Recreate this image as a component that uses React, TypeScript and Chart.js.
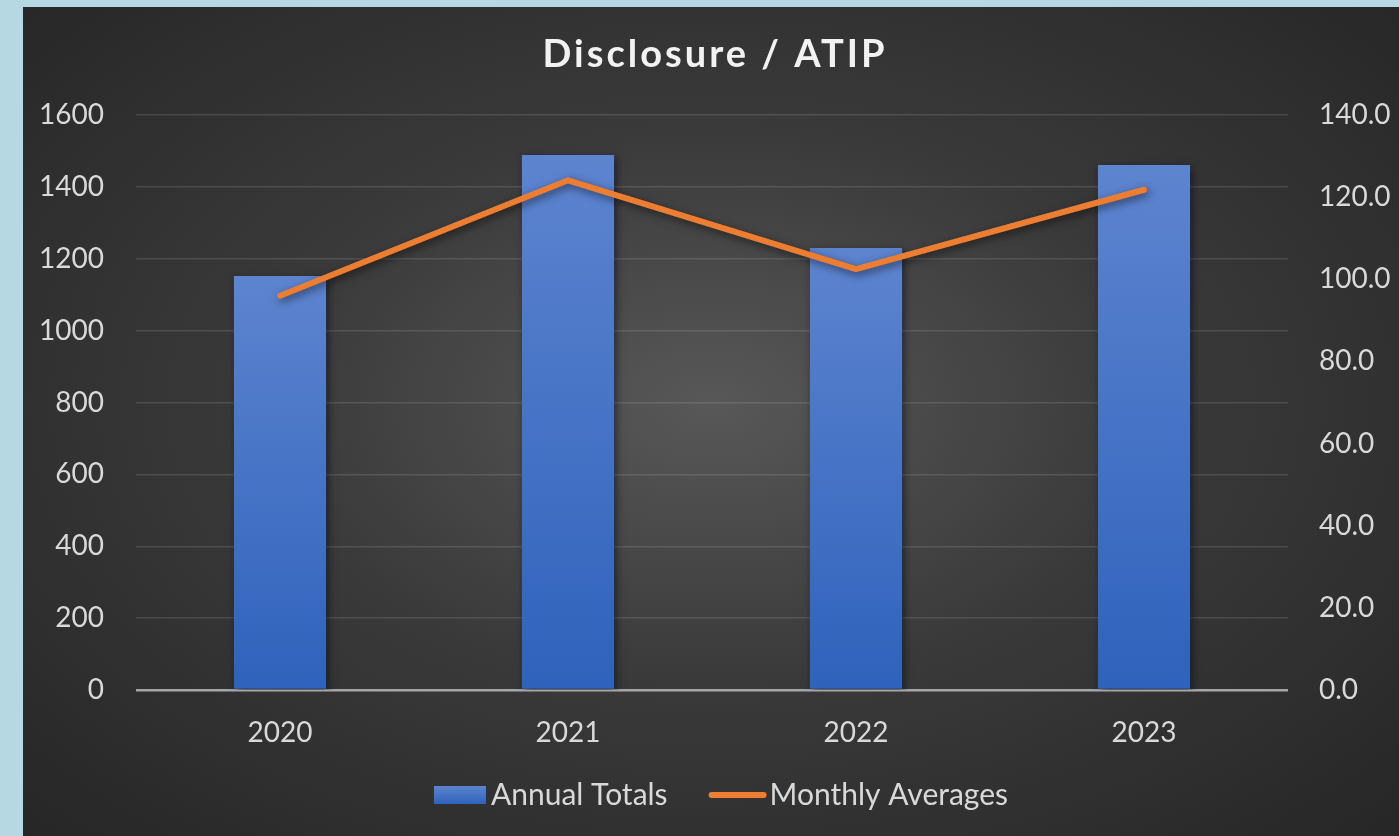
import React, { useEffect, useRef } from "react";
import { Chart, registerables } from "chart.js";

Chart.register(...registerables);

const titleText = "Disclosure / ATIP";
const categories = ["2020", "2021", "2022", "2023"];
const annualTotals = [1152, 1489, 1230, 1461];
const monthlyAverages = [96.0, 124.1, 102.5, 121.8];
const seriesNames = ["Annual Totals", "Monthly Averages"];
const leftMax = 1600;
const leftStep = 200;
const rightMax = 140;
const rightStep = 20;

const PANEL_W = 1376;
const PANEL_H = 829;
const FONT = "Lato, 'Open Sans', sans-serif";
const TEXT = "#d9d9d9";
const ORANGE = "#ed7d31";
const BLUE_TOP = "#5d84cf";
const BLUE_BOTTOM = "#2f62bc";

const shadowPlugin = {
  id: "shadowPlugin",
  beforeDatasetDraw(chart: any) {
    const ctx = chart.ctx;
    ctx.save();
    ctx.shadowColor = "rgba(0,0,0,0.55)";
    ctx.shadowBlur = 8;
    ctx.shadowOffsetX = 2;
    ctx.shadowOffsetY = 3;
  },
  afterDatasetDraw(chart: any) {
    chart.ctx.restore();
  },
};

const titlePlugin = {
  id: "customTitle",
  afterDraw(chart: any) {
    const ctx = chart.ctx;
    ctx.save();
    ctx.font = `bold 38px ${FONT}`;
    (ctx as any).letterSpacing = "3px";
    ctx.fillStyle = "#f2f2f2";
    ctx.textAlign = "center";
    ctx.textBaseline = "middle";
    ctx.fillText(titleText, chart.width / 2 + 4, 48);
    ctx.restore();
  },
};

const legendPlugin = {
  id: "customLegend",
  afterDraw(chart: any) {
    const ctx = chart.ctx;
    ctx.save();
    ctx.font = `30px ${FONT}`;
    ctx.textBaseline = "middle";
    ctx.textAlign = "left";
    const boxW = 52;
    const boxH = 18;
    const gap1 = 5;
    const itemGap = 41;
    const lineW = 58;
    const gap2 = 3;
    const w1 = ctx.measureText(seriesNames[0]).width;
    const w2 = ctx.measureText(seriesNames[1]).width;
    const total = boxW + gap1 + w1 + itemGap + lineW + gap2 + w2;
    let x = chart.width / 2 + 10 - total / 2;
    const cy = 788;
    const g = ctx.createLinearGradient(0, cy - boxH / 2, 0, cy + boxH / 2);
    g.addColorStop(0, BLUE_TOP);
    g.addColorStop(1, BLUE_BOTTOM);
    ctx.fillStyle = g;
    ctx.fillRect(x, cy - boxH / 2, boxW, boxH);
    x += boxW + gap1;
    ctx.fillStyle = TEXT;
    ctx.fillText(seriesNames[0], x, cy);
    x += w1 + itemGap;
    ctx.strokeStyle = ORANGE;
    ctx.lineWidth = 6;
    ctx.lineCap = "round";
    ctx.beginPath();
    ctx.moveTo(x + 3, cy);
    ctx.lineTo(x + lineW - 3, cy);
    ctx.stroke();
    x += lineW + gap2;
    ctx.fillText(seriesNames[1], x, cy);
    ctx.restore();
  },
};

export default function App() {
  const ref = useRef<HTMLCanvasElement | null>(null);

  useEffect(() => {
    if (!ref.current) return;
    const barColor = (c: any) => {
      const chart = c.chart;
      const area = chart.chartArea;
      const yScale = chart.scales?.y;
      if (!area || !yScale || c.raw === undefined) return "#4a79cb";
      const top = yScale.getPixelForValue(c.raw);
      const bottom = yScale.getPixelForValue(0);
      const g = chart.ctx.createLinearGradient(0, top, 0, bottom);
      g.addColorStop(0, BLUE_TOP);
      g.addColorStop(1, BLUE_BOTTOM);
      return g;
    };

    const chart = new Chart(ref.current, {
      type: "bar",
      data: {
        labels: categories,
        datasets: [
          {
            type: "bar",
            label: seriesNames[0],
            data: annualTotals,
            backgroundColor: barColor,
            borderWidth: 0,
            categoryPercentage: 1,
            barPercentage: 0.32,
            yAxisID: "y",
            order: 2,
          },
          {
            type: "line",
            label: seriesNames[1],
            data: monthlyAverages,
            borderColor: ORANGE,
            backgroundColor: ORANGE,
            borderWidth: 6,
            borderCapStyle: "round",
            borderJoinStyle: "round",
            pointRadius: 0,
            tension: 0,
            yAxisID: "y1",
            order: 1,
          },
        ],
      } as any,
      options: {
        responsive: false,
        animation: false,
        layout: { padding: { top: 108, bottom: 66, left: 0, right: 0 } },
        scales: {
          x: {
            grid: { display: false },
            border: { display: false },
            ticks: { color: TEXT, font: { family: FONT, size: 28 }, padding: 18 },
            afterFit: (s: any) => {
              s.height = 80;
            },
          },
          y: {
            position: "left",
            min: 0,
            max: leftMax,
            ticks: {
              stepSize: leftStep,
              color: TEXT,
              font: { family: FONT, size: 28 },
              padding: 32,
              callback: (v: any) => String(v),
            },
            grid: {
              drawTicks: false,
              color: (c: any) => (c.tick && c.tick.value === 0 ? "#a6a6a6" : "rgba(255,255,255,0.12)"),
              lineWidth: (c: any) => (c.tick && c.tick.value === 0 ? 2.5 : 1.5),
            },
            border: { display: false },
            afterFit: (s: any) => {
              s.width = 113;
            },
          },
          y1: {
            position: "right",
            min: 0,
            max: rightMax,
            ticks: {
              stepSize: rightStep,
              color: TEXT,
              font: { family: FONT, size: 28 },
              padding: 31,
              callback: (v: any) => Number(v).toFixed(1),
            },
            grid: { display: false, drawTicks: false },
            border: { display: false },
            afterFit: (s: any) => {
              s.width = 111;
            },
          },
        },
        plugins: {
          title: { display: false },
          tooltip: { enabled: false },
          legend: { display: false },
        },
      } as any,
      plugins: [shadowPlugin, titlePlugin, legendPlugin],
    });
    return () => chart.destroy();
  }, []);

  return (
    <div
      style={{
        position: "fixed",
        left: 0,
        top: 0,
        width: 1399,
        height: 836,
        background: "#b6d8e2",
        overflow: "hidden",
      }}
    >
      <div
        style={{
          position: "absolute",
          left: 23,
          top: 7,
          width: PANEL_W,
          height: PANEL_H,
          background: "radial-gradient(ellipse at 50% 48%, #585858 0%, #3a3a3a 45%, #262626 100%)",
        }}
      >
        <canvas ref={ref} width={PANEL_W} height={PANEL_H} style={{ display: "block" }} />
      </div>
    </div>
  );
}
